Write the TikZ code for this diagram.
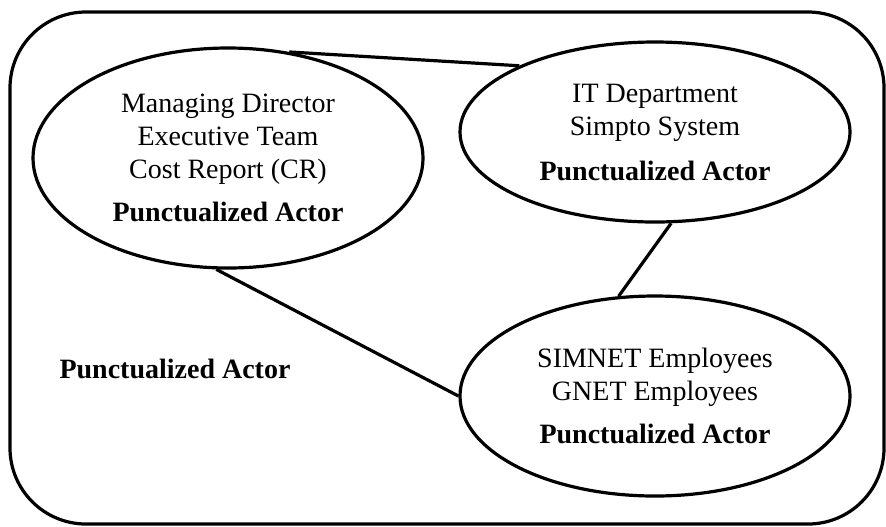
\documentclass[tikz,border=0pt]{standalone}
\usepackage{fontspec}
\setmainfont{Liberation Serif}
\usetikzlibrary{shapes.geometric}

\begin{document}
\begin{tikzpicture}[
  x=0.5pt,y=-0.5pt,line width=1.6pt,
  actor/.style={draw,ellipse,inner sep=0pt,align=center,minimum width=195pt,
    font=\fontsize{14}{16.5}\selectfont}]
\tikzstyle{link}=[line width=1.6pt]
\useasboundingbox (0,0) rectangle (886,526);
\draw[rounded corners=38pt] (10,12) rectangle (884,524);
\node[actor,minimum height=110pt] (md) at (228,158) {Managing Director\\Executive Team\\Cost Report (CR)\\[5pt]\textbf{Punctualized Actor}};
\node[actor,minimum height=90pt] (it) at (655,132) {IT Department\\Simpto System\\[6pt]\textbf{Punctualized Actor}};
\node[actor,minimum height=100pt] (emp) at (655,396) {SIMNET Employees\\GNET Employees\\[5pt]\textbf{Punctualized Actor}};
\node[anchor=base,font=\fontsize{14}{16.5}\selectfont\bfseries] (net) at (175,378) {Punctualized Actor};
\draw[link] (md.60.7) -- (it.154.1);
\draw[link] (it.280) -- (emp.110.3);
\draw[link] (md.264.8) -- (emp.180);
\end{tikzpicture}
\end{document}
